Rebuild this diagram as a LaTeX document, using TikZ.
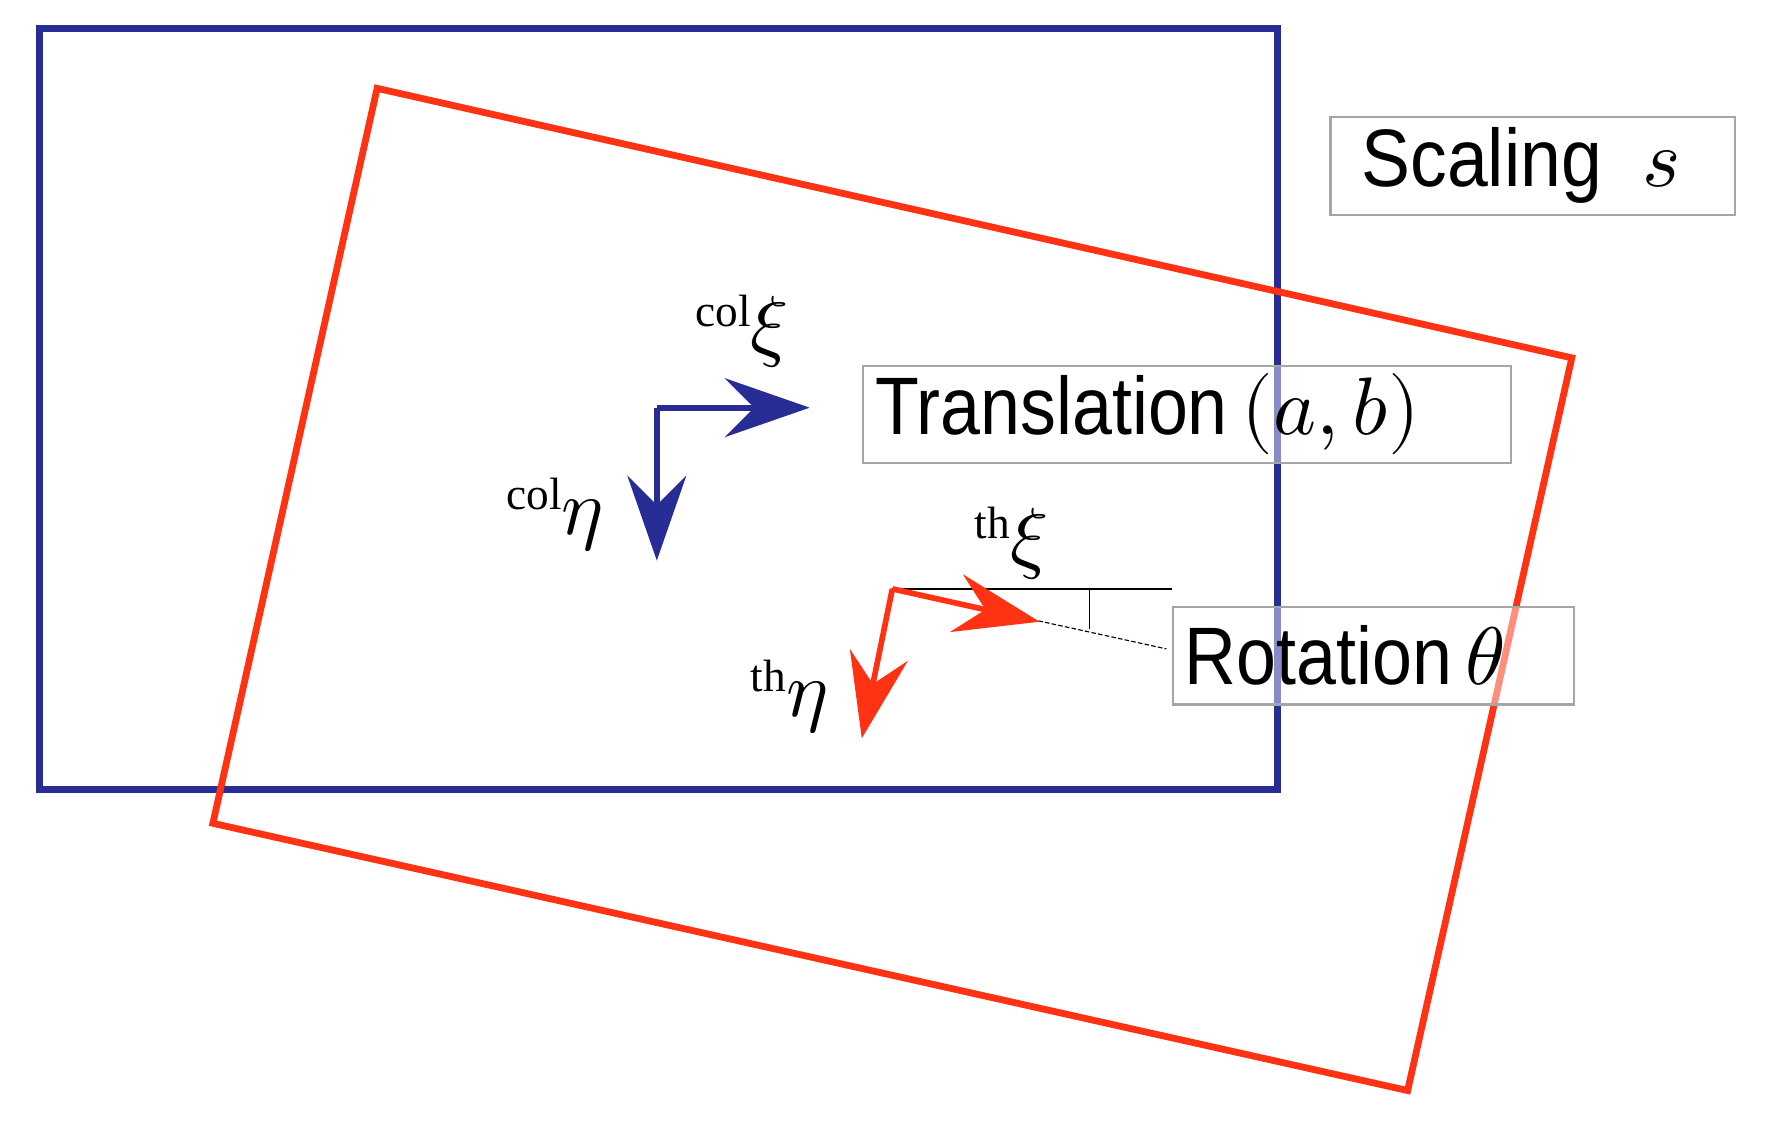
\documentclass[tikz,border=0pt]{standalone}
\usepackage{fontspec}
\usepackage{unicode-math}
\setmainfont{Liberation Sans}
\setmathfont{Latin Modern Math}
\newfontfamily\serifc{Liberation Serif}
\usetikzlibrary{arrows.meta}
\definecolor{bl}{RGB}{40,45,150}
\definecolor{rd}{RGB}{255,50,20}
\newcommand{\supl}[2]{\raisebox{22pt}{\fontsize{40}{44}\serifc #1}$#2$}
\tikzset{
 box/.style={draw=gray!70,line width=2pt,fill=white,fill opacity=0.45},
 txt/.style={anchor=west,inner sep=0pt,font=\fontsize{72}{76}\selectfont},
 sym/.style={font=\fontsize{70}{74}\selectfont},
 ar/.style={line width=5pt,-{Stealth[length=75pt,width=52pt,inset=26pt]}}
}
\begin{document}
\begin{tikzpicture}[x=1pt,y=-1pt]
\useasboundingbox (0,0) rectangle (1563,994);
\draw[bl,line width=6pt] (35,25) rectangle (1128,697);
\draw[rd,line width=6pt] (333,78) -- (1388,316) -- (1243,963) -- (188,727) -- cycle;
% blue frame
\coordinate (bc) at (580,360);
\coordinate (bx) at (715,360);
\coordinate (by) at (580,495);
\draw[bl,ar] (bc) -- (bx);
\draw[bl,ar] (bc) -- (by);
\node[sym] (cx) at (655,293) {\supl{col}{\xi}};
\node[sym] (cy) at (490,455) {\supl{col}{\eta}};
% red frame
\coordinate (rc) at (788,520);
\coordinate (rx) at (918,549);
\coordinate (ry) at (761,652);
\coordinate (hl) at (1035,520);
\coordinate (dl) at (1030,573);
\draw[line width=1.2pt] (rc) -- (hl);
\draw[line width=1pt,dash pattern=on 4pt off 2pt] (rc) -- (dl);
\draw[line width=1pt] (962,520) -- (962,555);
\draw[rd,ar] (rc) -- (rx);
\draw[rd,ar] (rc) -- (ry);
\node[sym] (tx) at (893,480) {\supl{th}{\xi}};
\node[sym] (ty) at (697,615) {\supl{th}{\eta}};
% labels
\node[box,minimum width=357pt,minimum height=87pt] (sc) at (1353.5,146.5) {};
\node[txt] (sct) at (1202,146.5) {\scalebox{0.9}[1]{Scaling}\hspace{36pt}$s$};
\node[box,minimum width=572pt,minimum height=86pt] (tr) at (1048,366) {};
\node[txt] (trt) at (773,366) {\scalebox{0.88}[1]{Translation}\,$(a,b)$};
\node[box,minimum width=354pt,minimum height=86pt] (ro) at (1213,579) {};
\node[txt] (rot) at (1046,579) {\scalebox{0.88}[1]{Rotation}\,$\theta$};
\end{tikzpicture}
\end{document}
